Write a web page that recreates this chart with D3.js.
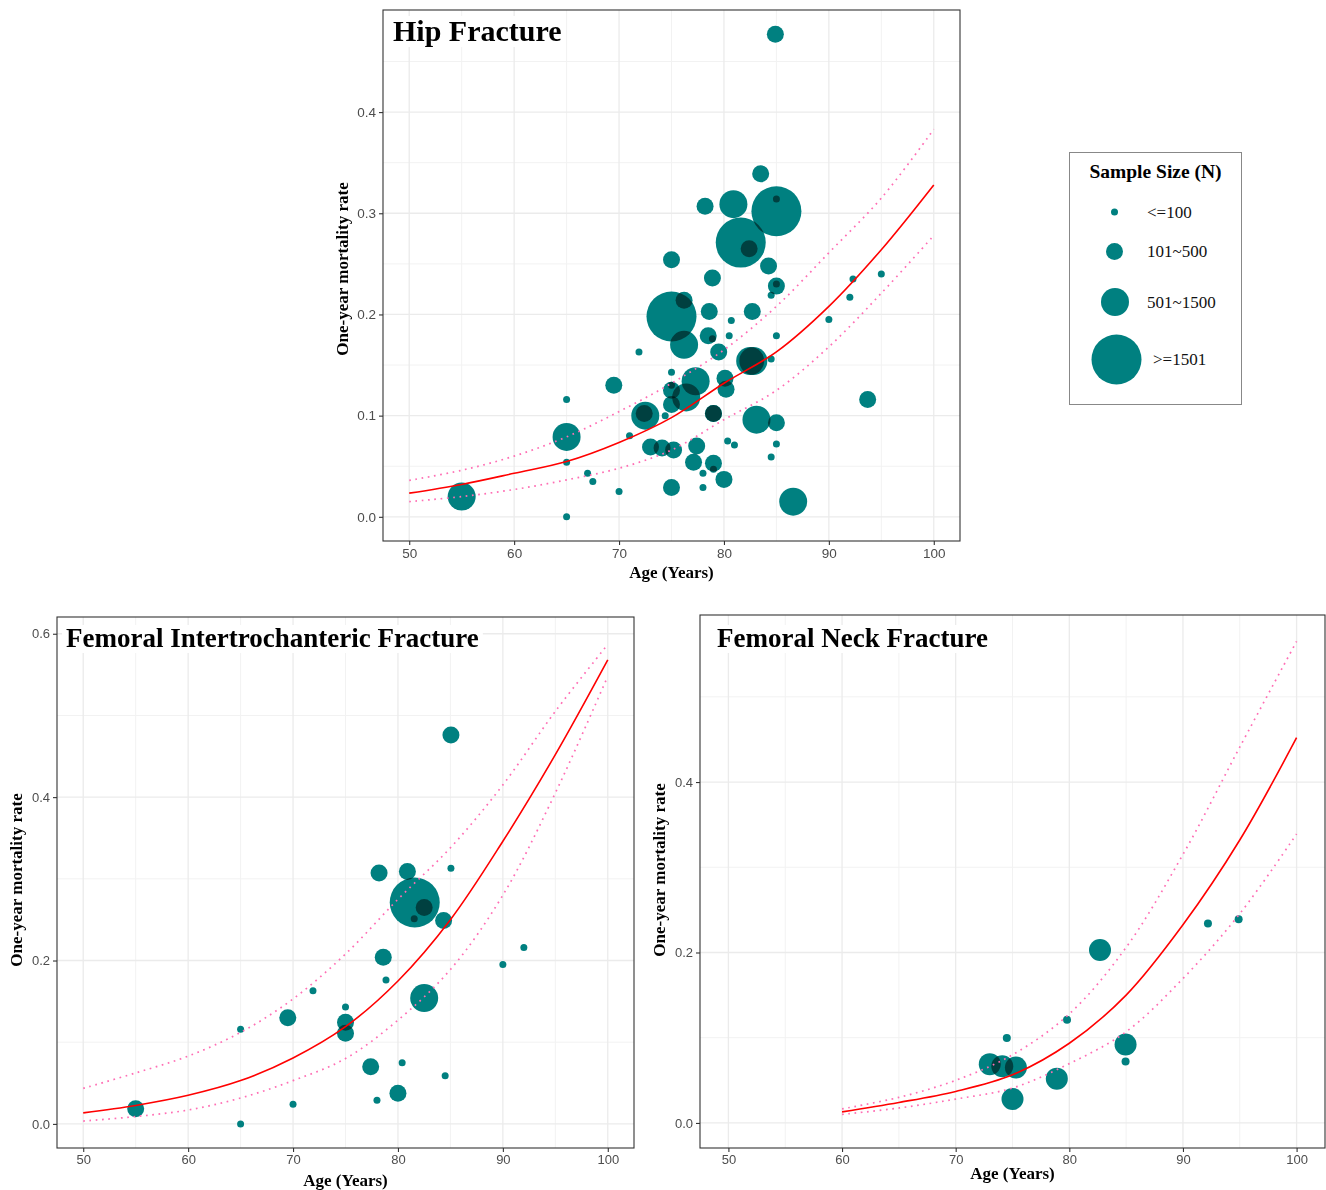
<!DOCTYPE html>
<html><head><meta charset="utf-8">
<script src="https://cdn.jsdelivr.net/npm/d3@7"></script>
<style>body{margin:0;background:#fff}</style>
</head><body>
<script>
// ---------- data ----------
const sizeLabels = ["<=100", "101~500", "501~1500", ">=1501"];
const xTicks = [50, 60, 70, 80, 90, 100];
const xMinor = [55, 65, 75, 85, 95];
const hipYTicks = [0, 0.1, 0.2, 0.3, 0.4];
const hipYMinor = [0.05, 0.15, 0.25, 0.35, 0.45];
const itYTicks = [0, 0.2, 0.4, 0.6];
const itYMinor = [0.1, 0.3, 0.5];
const fnYTicks = [0, 0.2, 0.4];
const fnYMinor = [0.1, 0.3, 0.5];

// Hip fracture studies (size: 1..4 -> sizeLabels)
const hipAge  = [55.0, 65, 65, 65, 65, 67.0, 67.5, 70.0, 69.5, 71.0, 71.9, 72.5, 72.4, 75.0, 75.0, 75.0, 75.0, 74.4, 73.0, 74.1,
                 75.2, 75.0, 75.0, 75.0, 76.2, 76.2, 78.2, 80.9, 81.6, 82.4, 85.0, 85.0, 83.5, 84.25, 85.0, 85.0, 84.5, 78.9, 78.6, 82.7,
                 80.7, 80.5, 85.0, 78.5, 78.9, 79.5, 82.5, 82.8, 84.5, 77.3, 76.4, 80.1, 80.2, 79.0, 79.0, 83.1, 85.0, 93.7, 90.0, 92.0,
                 92.3, 95.0, 80.35, 81.0, 85.0, 84.5, 77.4, 77.1, 79.0, 79.0, 78.0, 78.0, 80.0, 86.6, 84.9];
const hipRate = [0.020, 0.116, 0.079, 0.054, 0.000, 0.043, 0.035, 0.025, 0.130, 0.080, 0.163, 0.100, 0.102, 0.143, 0.130, 0.125, 0.111, 0.100, 0.069, 0.068,
                 0.066, 0.029, 0.254, 0.198, 0.214, 0.170, 0.307, 0.309, 0.271, 0.265, 0.302, 0.314, 0.339, 0.248, 0.228, 0.230, 0.219, 0.236, 0.203, 0.203,
                 0.194, 0.179, 0.179, 0.179, 0.176, 0.163, 0.154, 0.154, 0.156, 0.134, 0.118, 0.137, 0.126, 0.102, 0.102, 0.096, 0.093, 0.116, 0.195, 0.217,
                 0.235, 0.240, 0.075, 0.071, 0.072, 0.059, 0.070, 0.054, 0.053, 0.047, 0.043, 0.029, 0.037, 0.015, 0.477];
const hipSize = [3, 1, 3, 1, 1, 1, 1, 1, 2, 1, 1, 3, 2, 1, 1, 2, 2, 1, 2, 2,
                 2, 2, 2, 4, 2, 3, 2, 3, 4, 2, 4, 1, 2, 2, 2, 1, 1, 2, 2, 2,
                 1, 1, 1, 2, 1, 2, 3, 3, 1, 3, 3, 2, 2, 2, 2, 3, 2, 2, 1, 1,
                 1, 1, 1, 1, 1, 1, 2, 2, 2, 1, 1, 1, 2, 3, 2];

// Femoral intertrochanteric fracture studies
const itAge  = [55.0, 65, 65, 69.5, 70, 71.9, 85.05, 78.2, 80.9, 85.05, 81.6, 82.5, 81.55, 84.35, 78.6, 78.86, 92.0, 90.0, 75.0, 75.0,
                75.0, 82.5, 77.4, 80.4, 84.5, 80.0, 78.0];
const itRate = [0.0185, 0.116, 0.0, 0.130, 0.024, 0.163, 0.476, 0.307, 0.309, 0.313, 0.271, 0.265, 0.251, 0.249, 0.204, 0.176, 0.216, 0.195, 0.143, 0.1245,
                0.111, 0.154, 0.070, 0.075, 0.059, 0.0375, 0.029];
const itSize = [2, 1, 1, 2, 1, 1, 2, 2, 2, 1, 4, 2, 1, 2, 2, 1, 1, 1, 1, 2,
                2, 3, 2, 1, 1, 2, 1];

// Femoral neck fracture studies
const fnAge  = [82.7, 73.0, 74.1, 75.3, 74.5, 75.0, 78.9, 79.8, 84.95, 84.95, 92.2, 94.9];
const fnRate = [0.203, 0.069, 0.0665, 0.065, 0.0996, 0.028, 0.052, 0.121, 0.092, 0.072, 0.234, 0.239];
const fnSize = [2, 2, 2, 2, 1, 2, 2, 1, 2, 1, 1, 1];

// fitted curves (read at 5-year steps)
const fitAgeFull = [50, 55, 60, 65, 70, 75, 80, 85, 90, 95, 100];
const hipFit   = [0.0234, 0.032, 0.043, 0.0546, 0.0734, 0.098, 0.132, 0.163, 0.208, 0.264, 0.328];
const hipUpper = [0.036, 0.046, 0.060, 0.079, 0.104, 0.132, 0.165, 0.208, 0.261, 0.315, 0.383];
const hipLower = [0.015, 0.020, 0.027, 0.0365, 0.048, 0.066, 0.096, 0.125, 0.168, 0.221, 0.278];

const itFit   = [0.0135, 0.0226, 0.035, 0.053, 0.0807, 0.119, 0.175, 0.25, 0.346, 0.452, 0.568];
const itUpper = [0.0435, 0.0624, 0.083, 0.112, 0.153, 0.208, 0.275, 0.338, 0.415, 0.505, 0.587];
const itLower = [0.0035, 0.009, 0.017, 0.0317, 0.053, 0.080, 0.127, 0.189, 0.280, 0.405, 0.548];

const fitAgeFn = [60, 65, 70, 75, 80, 85, 90, 95, 100];
const fnFit   = [0.013, 0.024, 0.037, 0.0565, 0.0935, 0.150, 0.2325, 0.332, 0.452];
const fnUpper = [0.0165, 0.030, 0.050, 0.080, 0.128, 0.206, 0.315, 0.441, 0.565];
const fnLower = [0.010, 0.0175, 0.028, 0.041, 0.0696, 0.107, 0.1695, 0.2455, 0.339];

// ---------- drawing ----------
const W = 1326, H = 1190;
const svg = d3.select("body").append("svg").attr("width", W).attr("height", H)
  .style("background", "#fff").style("display", "block");
svg.append("rect").attr("width", W).attr("height", H).attr("fill", "#fff");

const SERIF = "'Liberation Serif','Times New Roman',serif";
const SANS = "'Liberation Sans',Arial,sans-serif";
const TEAL = "#008080";

function drawPanel(p) {
  const x = d3.scaleLinear().domain(p.xDomain).range([p.left, p.right]);
  const y = d3.scaleLinear().domain(p.yDomain).range([p.bottom, p.top]);
  const g = svg.append("g");
  const w = p.right - p.left, h = p.bottom - p.top;

  // minor grid
  g.selectAll(null).data(xMinor).join("line")
    .attr("x1", d => x(d)).attr("x2", d => x(d)).attr("y1", p.top).attr("y2", p.bottom)
    .attr("stroke", "#f2f2f2").attr("stroke-width", 1);
  g.selectAll(null).data(p.yMinor).join("line")
    .attr("y1", d => y(d)).attr("y2", d => y(d)).attr("x1", p.left).attr("x2", p.right)
    .attr("stroke", "#f2f2f2").attr("stroke-width", 1);
  // major grid
  g.selectAll(null).data(xTicks).join("line")
    .attr("x1", d => x(d)).attr("x2", d => x(d)).attr("y1", p.top).attr("y2", p.bottom)
    .attr("stroke", "#ebebeb").attr("stroke-width", 1.3);
  g.selectAll(null).data(p.yTicks).join("line")
    .attr("y1", d => y(d)).attr("y2", d => y(d)).attr("x1", p.left).attr("x2", p.right)
    .attr("stroke", "#ebebeb").attr("stroke-width", 1.3);

  // points
  const pg = g.append("g").style("isolation", "isolate");
  pg.selectAll("circle").data(d3.range(p.age.length)).join("circle")
    .attr("cx", i => x(p.age[i])).attr("cy", i => y(p.rate[i]))
    .attr("r", i => p.radii[p.size[i] - 1])
    .attr("fill", TEAL).style("mix-blend-mode", "multiply");

  // fitted lines
  const line = d3.line().x((d, i) => x(p.fitAge[i])).y(d => y(d)).curve(d3.curveCatmullRom.alpha(0.5));
  [p.upper, p.lower].forEach(arr => {
    g.append("path").attr("d", line(arr)).attr("fill", "none")
      .attr("stroke", "#ff6eb4").attr("stroke-width", 1.7)
      .attr("stroke-dasharray", "1.7,4.6");
  });
  g.append("path").attr("d", line(p.fit)).attr("fill", "none")
    .attr("stroke", "#ff0000").attr("stroke-width", 1.6);

  // title with white label background
  const t = g.append("text").attr("x", p.titleX).attr("y", p.titleY)
    .attr("font-family", SERIF).attr("font-weight", "bold").attr("font-size", p.titleSize)
    .attr("fill", "#000").text(p.title);
  const bb = t.node().getBBox();
  g.insert("rect", () => t.node())
    .attr("x", bb.x - 4).attr("y", bb.y + 2).attr("width", bb.width + 8).attr("height", bb.height - 2)
    .attr("fill", "#fff");

  // border
  g.append("rect").attr("x", p.left).attr("y", p.top).attr("width", w).attr("height", h)
    .attr("fill", "none").attr("stroke", "#333").attr("stroke-width", 1.1);

  // axes
  const ax = g.append("g").attr("transform", `translate(0,${p.bottom})`)
    .call(d3.axisBottom(x).tickValues(xTicks).tickSize(4).tickPadding(3).tickFormat(d3.format("d")));
  const ay = g.append("g").attr("transform", `translate(${p.left},0)`)
    .call(d3.axisLeft(y).tickValues(p.yTicks).tickSize(4).tickPadding(3).tickFormat(d3.format(".1f")));
  [ax, ay].forEach(a => {
    a.select(".domain").remove();
    a.selectAll(".tick line").attr("stroke", "#333").attr("stroke-width", 1.1);
    a.selectAll(".tick text").attr("fill", "#4d4d4d").attr("font-family", SANS).attr("font-size", p.tickSize);
  });

  // axis titles
  g.append("text").attr("x", (p.left + p.right) / 2).attr("y", p.xTitleY)
    .attr("text-anchor", "middle").attr("font-family", SERIF).attr("font-weight", "bold")
    .attr("font-size", 17).text("Age (Years)");
  g.append("text").attr("transform", `translate(${p.yTitleX},${p.yTitleCY}) rotate(-90)`)
    .attr("text-anchor", "middle").attr("dy", "0.35em").attr("font-family", SERIF).attr("font-weight", "bold")
    .attr("font-size", 17).text("One-year mortality rate");
}

drawPanel({
  left: 383, right: 960, top: 10, bottom: 541,
  xDomain: [47.5, 102.5], yDomain: [-0.0239, 0.5009],
  yTicks: hipYTicks, yMinor: hipYMinor,
  age: hipAge, rate: hipRate, size: hipSize, radii: [3.5, 8.5, 14, 25],
  fitAge: fitAgeFull, fit: hipFit, upper: hipUpper, lower: hipLower,
  title: "Hip Fracture", titleX: 393, titleY: 41, titleSize: 30,
  tickSize: 13.5, xTitleY: 578, yTitleX: 342, yTitleCY: 269
});

drawPanel({
  left: 57, right: 634, top: 617, bottom: 1148,
  xDomain: [47.5, 102.5], yDomain: [-0.0295, 0.6205],
  yTicks: itYTicks, yMinor: itYMinor,
  age: itAge, rate: itRate, size: itSize, radii: [3.5, 8.5, 14, 25],
  fitAge: fitAgeFull, fit: itFit, upper: itUpper, lower: itLower,
  title: "Femoral Intertrochanteric Fracture", titleX: 66, titleY: 647, titleSize: 27,
  tickSize: 13, xTitleY: 1186, yTitleX: 16.5, yTitleCY: 880
});

drawPanel({
  left: 700, right: 1325, top: 615, bottom: 1148,
  xDomain: [47.5, 102.5], yDomain: [-0.0294, 0.596],
  yTicks: fnYTicks, yMinor: fnYMinor,
  age: fnAge, rate: fnRate, size: fnSize, radii: [4, 11, 17, 31],
  fitAge: fitAgeFn, fit: fnFit, upper: fnUpper, lower: fnLower,
  title: "Femoral Neck Fracture", titleX: 717, titleY: 647, titleSize: 27,
  tickSize: 13, xTitleY: 1179, yTitleX: 659, yTitleCY: 870
});

// ---------- legend ----------
const legendR = [3.5, 8.5, 14, 25];
const legendY = [212, 251.5, 302, 359.5];
const lg = svg.append("g");
lg.append("rect").attr("x", 1069.5).attr("y", 152.5).attr("width", 172).attr("height", 252)
  .attr("fill", "#fff").attr("stroke", "#888").attr("stroke-width", 1);
lg.append("text").attr("x", 1155.5).attr("y", 178).attr("text-anchor", "middle")
  .attr("font-family", SERIF).attr("font-weight", "bold").attr("font-size", 19.5).text("Sample Size (N)");
lg.selectAll("circle").data(sizeLabels).join("circle")
  .attr("cx", (d, i) => [1114.5, 1114.5, 1115, 1116.5][i]).attr("cy", (d, i) => legendY[i])
  .attr("r", (d, i) => legendR[i]).attr("fill", TEAL);
lg.selectAll("text.lab").data(sizeLabels).join("text").attr("class", "lab")
  .attr("x", (d, i) => i === 3 ? 1153 : 1147).attr("y", (d, i) => legendY[i]).attr("dy", "0.35em")
  .attr("font-family", SERIF).attr("font-size", 17).attr("fill", "#111").text(d => d);
</script>
</body></html>
